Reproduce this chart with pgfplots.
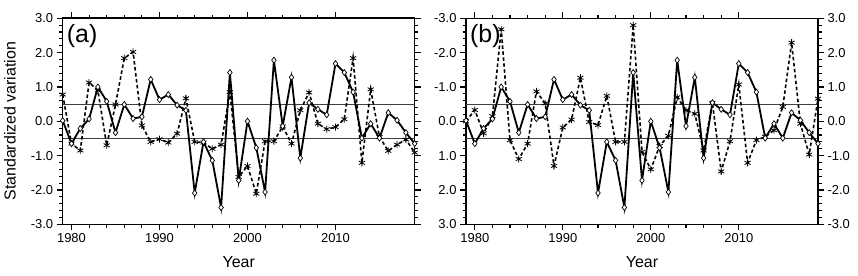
\documentclass[border=0pt]{standalone}
\usepackage{pgfplots}
\pgfplotsset{compat=1.18}
\usepackage{pgfplotstable}
\usepackage{fontspec}
\setmainfont{Liberation Sans}

\pgfplotstableread{
year pre sh nino
1979 0.02 0.78 0.00
1980 -0.65 -0.65 -0.33
1981 -0.21 -0.85 0.35
1982 0.07 1.13 -0.15
1983 1.00 0.90 -2.68
1984 0.58 -0.70 0.55
1985 -0.33 0.49 1.10
1986 0.49 1.84 0.65
1987 0.08 2.02 -0.87
1988 0.13 -0.12 -0.52
1989 1.22 -0.60 1.30
1990 0.63 -0.52 0.18
1991 0.78 -0.62 -0.05
1992 0.47 -0.36 -1.27
1993 0.32 0.67 0.02
1994 -2.09 -0.60 0.11
1995 -0.60 -0.62 -0.74
1996 -1.14 -0.80 0.60
1997 -2.51 -0.68 0.60
1998 1.42 0.85 -2.80
1999 -1.72 -1.62 0.89
2000 0.00 -1.30 1.40
2001 -0.77 -2.11 0.72
2002 -2.06 -0.58 0.42
2003 1.78 -0.58 -0.70
2004 -0.14 -0.15 -0.32
2005 1.28 -0.65 -0.22
2006 -1.07 0.32 0.85
2007 0.54 0.84 -0.54
2008 0.35 -0.07 1.46
2009 0.19 -0.23 0.58
2010 1.68 -0.17 -1.07
2011 1.42 0.06 1.21
2012 0.85 1.84 0.55
2013 -0.49 -1.21 0.45
2014 -0.07 0.93 0.26
2015 -0.49 -0.46 -0.42
2016 0.25 -0.86 -2.29
2017 0.03 -0.68 0.07
2018 -0.33 -0.53 0.97
2019 -0.65 -0.91 -0.66
}\datatable

\pgfplotsset{
  base/.style={
    scale only axis, width=352bp, height=206bp,
    xmin=1979, xmax=2019, ymin=-3, ymax=3,
    xtick={1980,1990,2000,2010}, minor x tick num=4,
    ytick={-3,-2,-1,0,1,2,3}, minor y tick num=4,
    tick align=outside, major tick length=6bp, minor tick length=3.5bp,
    every tick/.style={black, line width=1.1bp},
    axis line style={line width=1.6bp},
    tick label style={font=\fontsize{13}{15}\selectfont},
    /pgf/number format/assume math mode=true,
    y tick label style={/pgf/number format/.cd, fixed, fixed zerofill, precision=1, /tikz/.cd},
    x tick label style={/pgf/number format/.cd, 1000 sep={}, /tikz/.cd},
    label style={font=\fontsize{16}{18}\selectfont},
    xlabel style={at={(axis description cs:0.5,-0.1845)}, anchor=center},
    ylabel style={at={(axis description cs:-0.1497,0.5)}, anchor=center},
  },
  solidline/.style={black, line width=1.8bp, mark=diamond*, mark size=3bp,
    mark options={fill=white, solid, line width=0.7bp}},
  dashline/.style={black, line width=1.6bp, dash pattern=on 3.5bp off 2.5bp,
    mark=asterisk, mark size=3.5bp, mark options={solid, line width=0.8bp}},
  refline/.style={black!75, line width=0.8bp, forget plot},
}

\begin{document}
\begin{tikzpicture}
\useasboundingbox (-62.7bp,-51bp) rectangle (795.3bp,224.3bp);

% Panel (a)
\begin{axis}[base, xtick pos=both, xticklabel pos=bottom, ytick pos=both, yticklabel pos=left,
  xlabel={Year}, ylabel={Standardized variation}]
  \addplot[refline] coordinates {(1979,0.5) (2019,0.5)};
  \addplot[refline] coordinates {(1979,-0.5) (2019,-0.5)};
  \addplot[dashline] table[x=year, y=sh] {\datatable};
  \addplot[solidline] table[x=year, y=pre] {\datatable};
  \node[anchor=base west, font=\fontsize{12.5}{14}\selectfont, inner sep=0pt, yshift=5bp] at (rel axis cs:0,1) {Precipitation \& SH};
  \node[anchor=base east, font=\fontsize{12.5}{14}\selectfont, inner sep=0pt, yshift=5bp] at (rel axis cs:1,1) {R(Pre,SH) = -0.42};
  \node[anchor=north west, font=\fontsize{25}{27}\selectfont, inner sep=0pt, xshift=4bp, yshift=-6bp] at (rel axis cs:0,1) {(a)};
\end{axis}

% Panel (b): left reversed axis (Nino-3)
\begin{axis}[base, at={(403.3bp,0)}, y dir=reverse, xtick pos=both, xticklabel pos=bottom,
  ytick pos=left, yticklabel pos=left, xlabel={Year}]
  \addplot[refline] coordinates {(1979,0.5) (2019,0.5)};
  \addplot[refline] coordinates {(1979,-0.5) (2019,-0.5)};
  \addplot[dashline] table[x=year, y=nino] {\datatable};
  \node[anchor=base west, font=\fontsize{12.5}{14}\selectfont, inner sep=0pt, yshift=5bp] at (rel axis cs:0,1) {Precipitation \& Nino-3};
  \node[anchor=base east, font=\fontsize{12.5}{14}\selectfont, inner sep=0pt, yshift=5bp] at (rel axis cs:1,1) {R(Pre,Nino-3) = -0.34};
  \node[anchor=north west, font=\fontsize{25}{27}\selectfont, inner sep=0pt, xshift=4bp, yshift=-6bp] at (rel axis cs:0,1) {(b)};
\end{axis}

% Panel (b): right axis (Precipitation)
\begin{axis}[base, at={(403.3bp,0)}, axis y line*=right, axis x line=none]
  \addplot[solidline] table[x=year, y=pre] {\datatable};
\end{axis}
\end{tikzpicture}
\end{document}
